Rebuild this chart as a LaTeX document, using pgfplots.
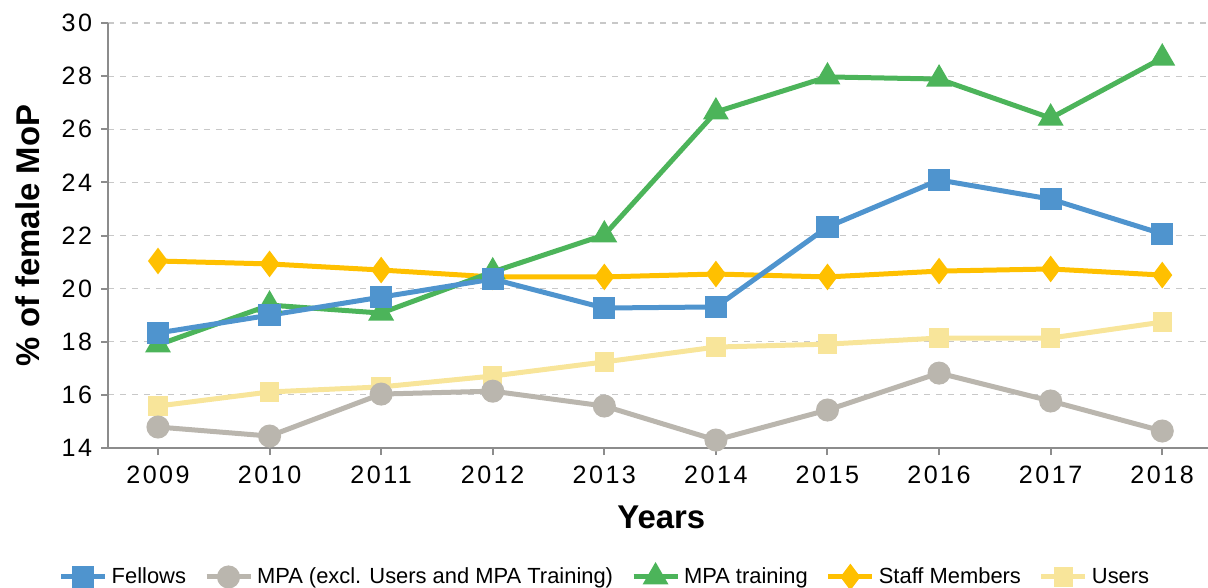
\documentclass[border=0pt]{standalone}
\usepackage{fontspec}
\setmainfont{Liberation Sans}
\newfontfamily\tickfont[LetterSpace=10]{Liberation Sans}
\usepackage{pgfplots}
\pgfplotsset{compat=1.18}

\definecolor{cFel}{HTML}{4F94CE}
\definecolor{cMpa}{HTML}{BAB6AE}
\definecolor{cTrn}{HTML}{4CB45A}
\definecolor{cStf}{HTML}{FFC000}
\definecolor{cUsr}{HTML}{F8E59A}
\definecolor{cAx}{HTML}{8C8C8C}
\definecolor{cGrid}{HTML}{C8C8C8}

\begin{document}
\begin{tikzpicture}
\useasboundingbox (-54bp,-70bp) rectangle (550bp,224bp);
\begin{axis}[
  scale only axis,
  width=550bp, height=212.5bp,
  xmin=2008.552, xmax=2018.41,
  ymin=14, ymax=30,
  xtick={2009,...,2018},
  ytick={14,16,...,30},
  /pgf/number format/assume math mode=true,
  /pgf/number format/1000 sep={},
  axis x line*=bottom, axis y line*=left,
  axis line style={cAx, line width=1bp, -},
  tick style={cAx, line width=1bp},
  tick align=outside, major tick length=3.5bp,
  ymajorgrids,
  grid style={cGrid, line width=0.6bp, dash pattern=on 3bp off 3bp},
  ticklabel style={font=\tickfont\fontsize{12.6}{14}\selectfont},
  xticklabel style={yshift=-2bp},
  yticklabel style={xshift=-1bp},
  xlabel={Years},
  ylabel={\% of female MoP},
  label style={font=\bfseries\fontsize{16.5}{19}\selectfont},
  xlabel style={at={(axis description cs:0.503,-0.162)}, anchor=center},
  ylabel style={at={(axis description cs:-0.073,0.5)}, anchor=center},
  every axis plot/.append style={line width=2.5bp, mark options={solid}},
  legend columns=5,
  reverse legend,
  legend style={draw=none, fill=none, at={(0.4527,-0.3035)}, anchor=center,
    font=\fontsize{11}{13}\selectfont,
    /tikz/every even column/.append style={column sep=7bp}},
  legend image code/.code={
    \draw[mark repeat=2,mark phase=2] plot coordinates {(0bp,0bp)(11bp,0bp)(22bp,0bp)};
  },
]
\addplot[cUsr, mark=square*, mark size=3.6bp] coordinates {
(2009,15.58) (2010,16.11) (2011,16.30) (2012,16.71) (2013,17.24)
(2014,17.80) (2015,17.91) (2016,18.14) (2017,18.14) (2018,18.74)};
\addplot[cStf, mark=diamond*, mark size=4.6bp] coordinates {
(2009,21.04) (2010,20.93) (2011,20.70) (2012,20.44) (2013,20.44)
(2014,20.55) (2015,20.44) (2016,20.66) (2017,20.74) (2018,20.51)};
\addplot[cTrn, mark=triangle*, mark size=5bp] coordinates {
(2009,17.88) (2010,19.38) (2011,19.08) (2012,20.63) (2013,22.02)
(2014,26.65) (2015,27.97) (2016,27.89) (2017,26.42) (2018,28.68)};
\addplot[cMpa, mark=*, mark size=4.5bp] coordinates {
(2009,14.79) (2010,14.45) (2011,16.03) (2012,16.14) (2013,15.58)
(2014,14.30) (2015,15.43) (2016,16.82) (2017,15.77) (2018,14.64)};
\addplot[cFel, mark=square*, mark size=4.3bp] coordinates {
(2009,18.33) (2010,19.00) (2011,19.68) (2012,20.36) (2013,19.27)
(2014,19.31) (2015,22.32) (2016,24.09) (2017,23.37) (2018,22.06)};
\legend{Users, Staff Members, MPA training, MPA (excl. Users and MPA Training), Fellows}
\end{axis}
\end{tikzpicture}
\end{document}
